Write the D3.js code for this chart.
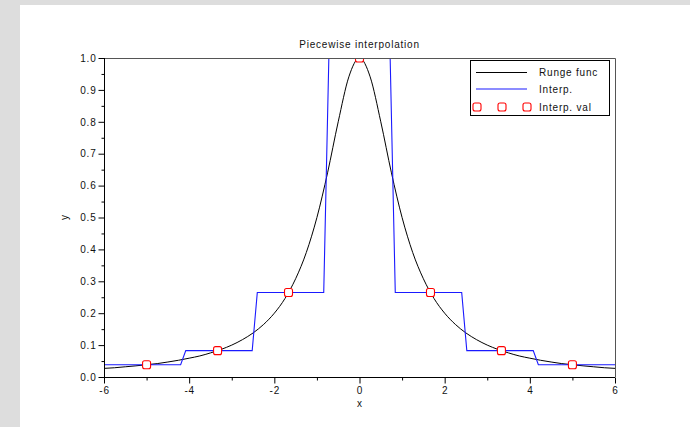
<!DOCTYPE html>
<html>
<head>
<meta charset="utf-8">
<script src="https://cdn.jsdelivr.net/npm/d3@7"></script>
<style>
    body { margin: 0; background: #dddddd; }
    svg { display: block; }
    text { font-family: "Liberation Sans", Arial, sans-serif; fill: #111; }
</style>
</head>
<body>
<svg id="chart" width="690" height="427"></svg>
<script>
/* Runge function */
const rungeX = [-6, -5.75, -5.5, -5.25, -5, -4.75, -4.5, -4.25, -4, -3.75, -3.5, -3.25, -3, -2.75, -2.5, -2.25, -2,
    -1.75, -1.5, -1.25, -1, -0.75, -0.5, -0.25, 0, 0.25, 0.5, 0.75, 1, 1.25, 1.5, 1.75, 2, 2.25, 2.5, 2.75, 3,
    3.25, 3.5, 3.75, 4, 4.25, 4.5, 4.75, 5, 5.25, 5.5, 5.75, 6];
const rungeY = [0.027, 0.029, 0.032, 0.035, 0.0385, 0.042, 0.047, 0.0525, 0.059, 0.066, 0.0755, 0.0865, 0.1, 0.117, 0.138, 0.165, 0.2,
    0.246, 0.308, 0.39, 0.5, 0.64, 0.8, 0.941, 1, 0.941, 0.8, 0.64, 0.5, 0.39, 0.308, 0.246, 0.2, 0.165, 0.138, 0.117, 0.1,
    0.0865, 0.0755, 0.066, 0.059, 0.0525, 0.047, 0.042, 0.0385, 0.035, 0.032, 0.029, 0.027];

/* corners of the blue step line */
const interpX = [-6, -4.2, -4.08, -2.52, -2.4, -0.84, -0.72, 0.72, 0.84, 2.4, 2.52, 4.08, 4.2, 6];
const interpY = [0.0385, 0.0385, 0.0826, 0.0826, 0.265, 0.265, 1, 1, 0.265, 0.265, 0.0826, 0.0826, 0.0385, 0.0385];

/* interpolation nodes (red squares) */
const nodeX = [-5, -3.333, -1.667, 0, 1.667, 3.333, 5];
const nodeY = [0.0385, 0.0826, 0.265, 1, 0.265, 0.0826, 0.0385];

const xMajor = [-6, -4, -2, 0, 2, 4, 6];
const xMinor = [-5, -3, -1, 1, 3, 5];
const yMajor = [0, 0.1, 0.2, 0.3, 0.4, 0.5, 0.6, 0.7, 0.8, 0.9, 1.0];
const yMinor = [0.05, 0.15, 0.25, 0.35, 0.45, 0.55, 0.65, 0.75, 0.85, 0.95];

const legendNames = ["Runge func", "Interp.", "Interp. val"];

const pLeft = 104, pRight = 615, pTop = 58, pBottom = 377;
const blue = "#1a1aff";

const svg = d3.select("#chart");

// white canvas, grey strip on the left and top
svg.append("rect")
    .attr("x", 20).attr("y", 5)
    .attr("width", 670).attr("height", 422)
    .attr("fill", "#ffffff");

const x = d3.scaleLinear().domain([-6, 6]).range([pLeft, pRight]);
const y = d3.scaleLinear().domain([0, 1]).range([pBottom, pTop]);

svg.append("clipPath").attr("id", "clip")
    .append("rect")
    .attr("x", pLeft).attr("y", pTop)
    .attr("width", pRight - pLeft).attr("height", pBottom - pTop);

const plot = svg.append("g").attr("clip-path", "url(#clip)");

const line = d3.line()
    .x((d) => x(d[0]))
    .y((d) => y(d[1]));

plot.append("path")
    .datum(rungeX.map((v, i) => [v, rungeY[i]]))
    .attr("d", line.curve(d3.curveMonotoneX))
    .attr("fill", "none")
    .attr("stroke", "#000")
    .attr("stroke-width", 1);

plot.append("path")
    .datum(interpX.map((v, i) => [v, interpY[i]]))
    .attr("d", line.curve(d3.curveLinear))
    .attr("fill", "none")
    .attr("stroke", blue)
    .attr("stroke-width", 1.1);

plot.selectAll("rect.node")
    .data(nodeX.map((v, i) => [v, nodeY[i]]))
    .enter()
    .append("rect")
    .attr("class", "node")
    .attr("x", (d) => x(d[0]) - 4)
    .attr("y", (d) => y(d[1]) - 4)
    .attr("width", 8).attr("height", 8)
    .attr("rx", 2)
    .attr("fill", "#fff")
    .attr("stroke", "#ff0000")
    .attr("stroke-width", 1.1);

// frame: top and right
svg.append("path")
    .attr("d", `M${pLeft},${pTop + 0.5}H${pRight + 0.5}V${pBottom}`)
    .attr("fill", "none")
    .attr("stroke", "#555")
    .attr("stroke-width", 1);

// axes
const xAxis = svg.append("g")
    .attr("transform", `translate(0,${pBottom + 0.5})`)
    .call(d3.axisBottom(x).tickValues(xMajor).tickSize(6).tickPadding(3).tickFormat((d) => String(d)));
xAxis.append("g")
    .call(d3.axisBottom(x).tickValues(xMinor).tickSize(3).tickFormat(""));

const yAxis = svg.append("g")
    .attr("transform", `translate(${pLeft + 0.5},0)`)
    .call(d3.axisLeft(y).tickValues(yMajor).tickSize(6).tickPadding(2).tickFormat((d) => d.toFixed(1)));
yAxis.append("g")
    .call(d3.axisLeft(y).tickValues(yMinor).tickSize(3).tickFormat(""));

svg.selectAll(".domain").attr("stroke", "#000");
svg.selectAll(".tick line").attr("stroke", "#000");
svg.selectAll(".tick text")
    .style("font-family", "Liberation Sans, Arial, sans-serif")
    .style("font-size", "10px")
    .style("letter-spacing", "0.8px")
    .attr("fill", "#111");
yAxis.selectAll("path.domain").attr("d", `M0,${pBottom}V${pTop}`);
xAxis.selectAll("path.domain").attr("d", `M${pLeft},0H${pRight}`);

// titles
svg.append("text")
    .attr("x", (pLeft + pRight) / 2).attr("y", 48)
    .attr("text-anchor", "middle")
    .style("font-size", "10px")
    .style("letter-spacing", "0.8px")
    .text("Piecewise interpolation");

svg.append("text")
    .attr("x", (pLeft + pRight) / 2).attr("y", 407)
    .attr("text-anchor", "middle")
    .style("font-size", "10px")
    .text("x");

svg.append("text")
    .attr("transform", `translate(68,${y(0.5)}) rotate(-90)`)
    .attr("text-anchor", "middle")
    .style("font-size", "10px")
    .text("y");

// legend
const legend = svg.append("g");
legend.append("rect")
    .attr("x", 470.5).attr("y", 60.5)
    .attr("width", 139).attr("height", 55)
    .attr("fill", "#fff")
    .attr("stroke", "#000");

const rows = [72, 89, 107];
legend.append("path")
    .attr("d", `M476,${rows[0] + 0.5}H527`)
    .attr("fill", "none")
    .attr("stroke", "#000")
    .attr("stroke-width", 1);
legend.append("path")
    .attr("d", `M476,${rows[1]}H527`)
    .attr("fill", "none")
    .attr("stroke", blue)
    .attr("stroke-width", 1.2);
legend.selectAll("rect.mark")
    .data([477, 502, 527])
    .enter()
    .append("rect")
    .attr("class", "mark")
    .attr("x", (d) => d - 4).attr("y", rows[2] - 4)
    .attr("width", 8).attr("height", 8).attr("rx", 2)
    .attr("fill", "#fff").attr("stroke", "#ff0000").attr("stroke-width", 1.1);

legend.selectAll("text")
    .data(legendNames)
    .enter()
    .append("text")
    .attr("x", 539)
    .attr("y", (d, i) => rows[i] + 4)
    .style("font-size", "10px")
    .style("letter-spacing", "0.8px")
    .text((d) => d);
</script>
</body>
</html>
